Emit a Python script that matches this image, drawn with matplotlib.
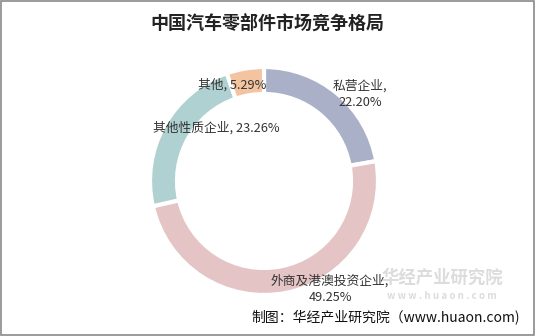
import matplotlib
matplotlib.use("Agg")
import matplotlib.pyplot as plt
from matplotlib.patches import Rectangle

plt.rcParams['font.family'] = ['Noto Sans CJK SC', 'DejaVu Sans']

title = "中国汽车零部件市场竞争格局"
categories = ["私营企业", "外商及港澳投资企业", "其他性质企业", "其他"]
values = [22.20, 49.25, 23.26, 5.29]
colors = ["#aab0c8", "#e5c4c6", "#b0d1d1", "#f4c4a0"]
label_texts = ["私营企业,\n22.20%", "外商及港澳投资企业,\n49.25%",
               "其他性质企业, 23.26%", "其他, 5.29%"]
label_pos_px = [(360, 94), (330, 289), (216, 128), (232, 85)]
source = "制图：华经产业研究院（www.huaon.com)"

W, H = 535, 336
fig = plt.figure(figsize=(W / 100, H / 100), dpi=100)
ax = fig.add_axes([0, 0, 1, 1])

cx, cy, R = 264, H - 181, 114
ax.pie(values, colors=colors, startangle=90, counterclock=False,
       center=(cx, cy), radius=R, frame=True,
       wedgeprops=dict(width=27, edgecolor='white', linewidth=3))
ax.set_xlim(0, W)
ax.set_ylim(0, H)
ax.axis('off')

for txt, (px, py) in zip(label_texts, label_pos_px):
    ax.text(px, H - py, txt, ha='center', va='center', fontsize=9.2,
            color='#333333', linespacing=1.3)

# watermark
ax.text(442, H - 278, "华经产业研究院", ha='center', va='center', fontsize=12.5,
        color='#dcdcdc', fontweight='bold')
ax.text(442, H - 296, "w w w . h u a o n . c o m", ha='center', va='center', fontsize=7,
        color='#dcdcdc', fontweight='bold')

ax.text(W / 2, H - 23, title, ha='center', va='center', fontsize=13,
        fontweight='bold', color='#222222')
ax.text(520, H - 318, source, ha='right', va='center', fontsize=10, color='#111111')

ax.add_patch(Rectangle((1, 1), W - 2, H - 2, fill=False, edgecolor='#8a8a8a',
                       linewidth=1.2))

fig.savefig("out.png", dpi=100)
